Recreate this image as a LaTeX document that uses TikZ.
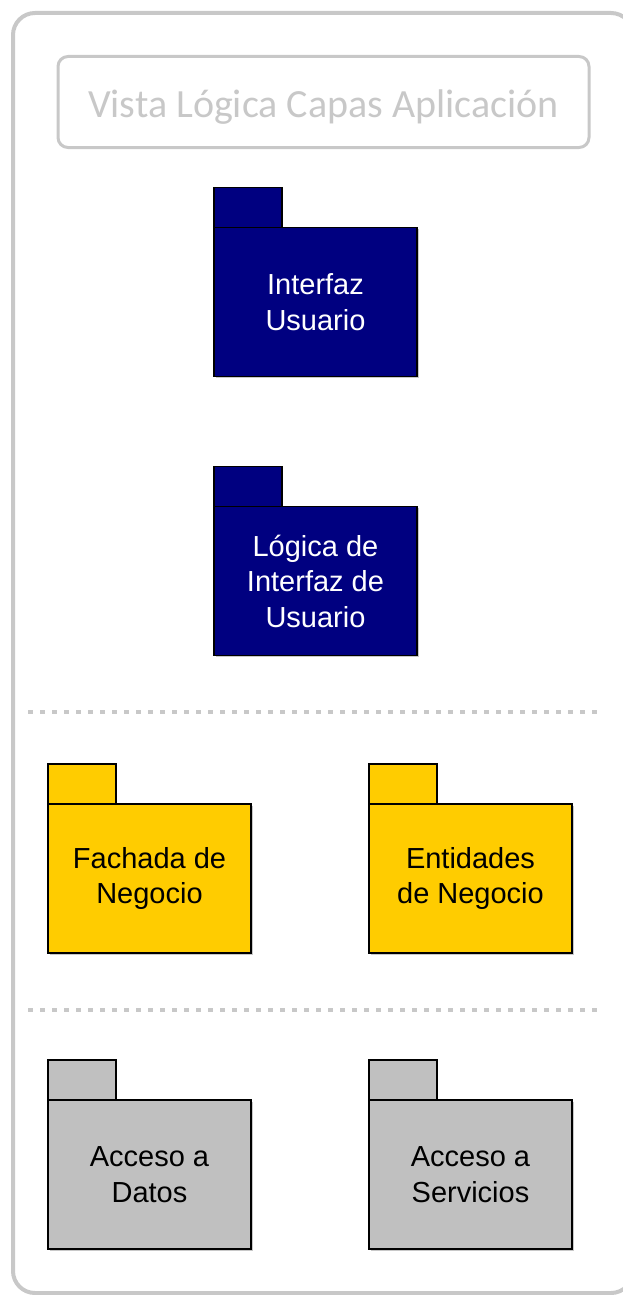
\documentclass[tikz,border=0pt]{standalone}
\usepackage{fontspec}
\setmainfont{Liberation Sans}
\newfontfamily\titlefont{Carlito}
\usetikzlibrary{positioning,shadows}
\definecolor{pkgblue}{HTML}{000080}
\definecolor{pkgyellow}{HTML}{FFCC00}
\definecolor{pkggray}{HTML}{C0C0C0}
\definecolor{framegray}{HTML}{C8C8C8}
\tikzset{%
    pkg/.style={draw=black,line width=1.5pt,inner sep=0pt,outer sep=0pt,minimum width=203pt,minimum height=149pt,align=center,font=\fontsize{29}{35.5}\selectfont,
        drop shadow={shadow xshift=1.5pt,shadow yshift=-1.5pt,fill=framegray,opacity=1}},
    pkgtab/.style={draw=black,line width=1.5pt,inner sep=0pt,outer sep=0pt,minimum width=68pt,minimum height=40pt,anchor=south west},
    sepline/.style={draw=framegray,line width=4pt,dash pattern=on 5pt off 7pt}
}
\begin{document}
\begin{tikzpicture}[x=1pt,y=-1pt]
        \clip (0,0) rectangle (623,1295);
        \draw[framegray,line width=4pt,rounded corners=22pt] (13,13) rectangle (633,1293);

        \node[draw=framegray,line width=3pt,rounded corners=10pt,minimum width=531pt,minimum height=91pt,text=framegray,text height=31pt,text depth=0pt,font=\titlefont\fontsize{40}{40}\selectfont] (titulo) at (323.5,102) {Vista Lógica Capas Aplicación};

        \node[pkg,fill=pkgblue,text=white] (interfaz) at (315.5,302) {Interfaz\\Usuario};
        \node[pkgtab,fill=pkgblue] (interfaz-tab) at (interfaz.north west) {};

        \node[pkg,fill=pkgblue,text=white] (logica) at (315.5,581) {Lógica de\\Interfaz de\\Usuario};
        \node[pkgtab,fill=pkgblue] (logica-tab) at (logica.north west) {};

        \draw[sepline] (28,712) -- (600,712);

        \node[pkg,fill=pkgyellow] (fachada) at (149.5,878.5) {Fachada de\\Negocio};
        \node[pkgtab,fill=pkgyellow] (fachada-tab) at (fachada.north west) {};

        \node[pkg,fill=pkgyellow] (entidades) at (470.5,878.5) {Entidades\\de Negocio};
        \node[pkgtab,fill=pkgyellow] (entidades-tab) at (entidades.north west) {};

        \draw[sepline] (28,1010) -- (600,1010);

        \node[pkg,fill=pkggray] (datos) at (149.5,1174.5) {Acceso a\\Datos};
        \node[pkgtab,fill=pkggray] (datos-tab) at (datos.north west) {};

        \node[pkg,fill=pkggray] (servicios) at (470.5,1174.5) {Acceso a\\Servicios};
        \node[pkgtab,fill=pkggray] (servicios-tab) at (servicios.north west) {};
    \end{tikzpicture}
\end{document}
